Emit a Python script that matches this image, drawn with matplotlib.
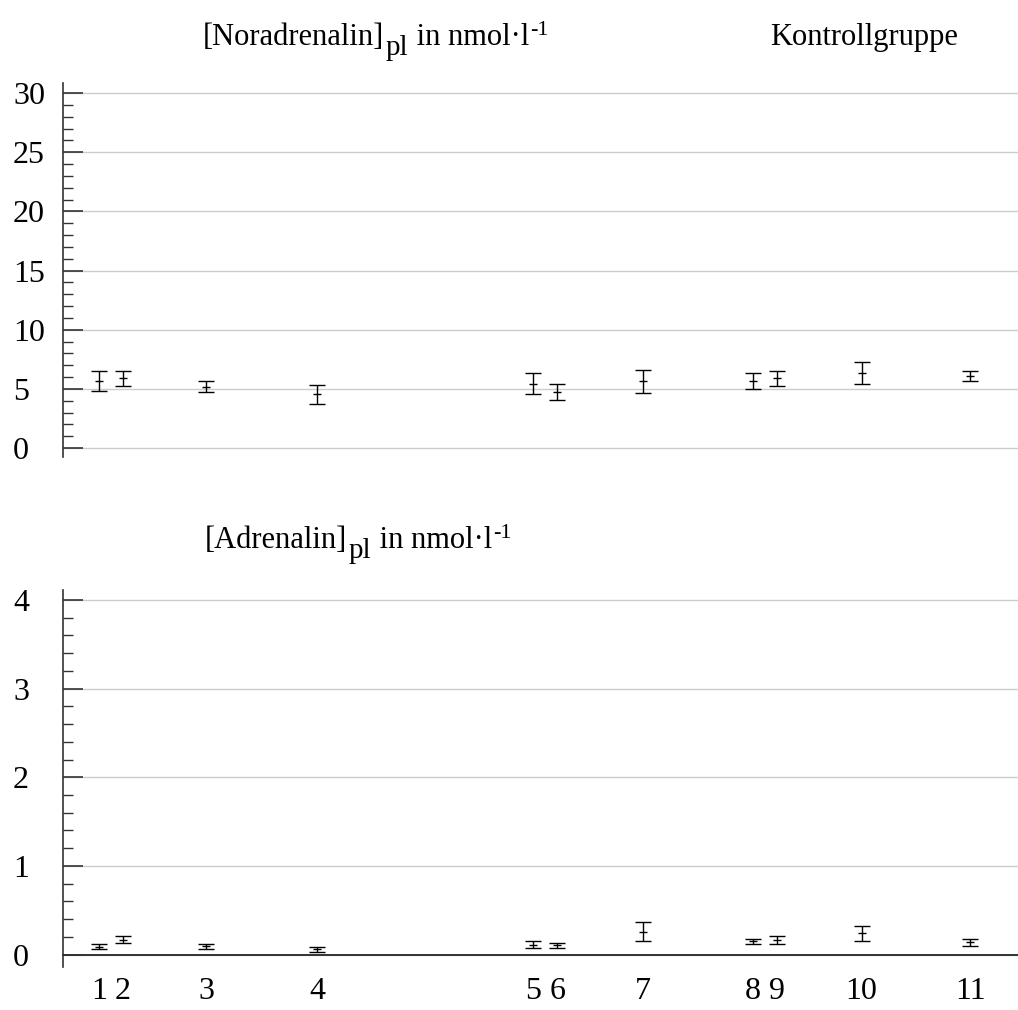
"""Plasma catecholamines of the control group: mean +/- SD at the eleven sampling points."""
import numpy as np
import matplotlib
matplotlib.use("Agg")
import matplotlib.pyplot as plt
from matplotlib.ticker import MultipleLocator

plt.rcParams["font.family"] = ["Liberation Serif", "DejaVu Serif"]

# sampling points (time axis position) and their labels
t_pos = [1.5, 2.5, 6.0, 10.65, 19.7, 20.7, 24.3, 28.9, 29.9, 33.45, 38.0]
t_labels = ["1", "2", "3", "4", "5", "6", "7", "8", "9", "10", "11"]

# noradrenaline, nmol/l
na_mean = [5.66, 5.89, 5.18, 4.54, 5.43, 4.76, 5.63, 5.66, 5.89, 6.34, 6.08]
na_sd = [0.87, 0.66, 0.45, 0.80, 0.90, 0.67, 1.00, 0.68, 0.66, 0.89, 0.43]

# adrenaline, nmol/l
a_mean = [0.090, 0.168, 0.092, 0.058, 0.110, 0.102, 0.256, 0.150, 0.162, 0.238, 0.137]
a_sd = [0.030, 0.042, 0.027, 0.027, 0.040, 0.032, 0.107, 0.028, 0.047, 0.087, 0.041]

DPI = 100
W, H = 1018, 1010
fig = plt.figure(figsize=(W / DPI, H / DPI), dpi=DPI)

GRID = "#cccccc"
AXC = "#333333"


def panel(rect, mean, sd, ylim, major, minor):
    ax = fig.add_axes(rect)
    ax.errorbar(t_pos, mean, yerr=sd, fmt="_", color="black", ms=6, mew=1.0,
                elinewidth=1.0, capsize=5.6, capthick=1.0)
    ax.set_xlim(0, 40)
    ax.set_ylim(*ylim)
    ax.yaxis.set_major_locator(MultipleLocator(major))
    ax.yaxis.set_minor_locator(MultipleLocator(minor))
    ax.yaxis.grid(True, which="major", color=GRID, lw=1.0)
    ax.set_axisbelow(True)
    for side in ("top", "right"):
        ax.spines[side].set_visible(False)
    ax.spines["left"].set_color(AXC)
    ax.spines["left"].set_linewidth(1.2)
    ax.tick_params(axis="y", which="major", direction="in", length=14.4, width=1.2,
                   color=AXC, labelsize=23, pad=36)
    ax.tick_params(axis="y", which="minor", direction="in", length=7.2, width=1.0,
                   color=AXC)
    for lab in ax.get_yticklabels():
        lab.set_horizontalalignment("left")
    return ax


def unit_title(x, y, name):
    # "[name]" + lowered "pl" + " in nmol·l" + raised "-1", laid out piece by piece
    renderer = fig.canvas.get_renderer()
    pieces = [(name, 22, 0), ("pl", 21, -10), (" in nmol·l", 22, 0), ("-1", 16, 10)]
    px = x
    for text, size, dy in pieces:
        t = fig.text(px / W, 1 - (y - dy) / H, text, fontsize=size, ha="left", va="baseline")
        px = t.get_window_extent(renderer).x1 + 1


ax1 = panel([63 / W, 1 - 457 / H, 1 - 63 / W, 374 / H], na_mean, na_sd,
            (-0.76, 30.85), 5, 1)
ax1.spines["bottom"].set_visible(False)
ax1.set_xticks([])

ax2 = panel([63 / W, 1 - 967 / H, 1 - 63 / W, 377 / H], a_mean, a_sd,
            (-0.141, 4.113), 1, 0.2)
ax2.spines["bottom"].set_position(("data", 0))
ax2.spines["bottom"].set_color(AXC)
ax2.spines["bottom"].set_linewidth(1.4)
ax2.set_xticks(t_pos)
ax2.set_xticklabels(t_labels)
ax2.tick_params(axis="x", length=0, labelsize=23, pad=16)

unit_title(203, 45, "[Noradrenalin]")
fig.text(770 / W, 1 - 45 / H, "Kontrollgruppe", fontsize=22, ha="left", va="baseline")
unit_title(205, 548, "[Adrenalin]")

fig.savefig("out.png", dpi=DPI)
plt.close(fig)
